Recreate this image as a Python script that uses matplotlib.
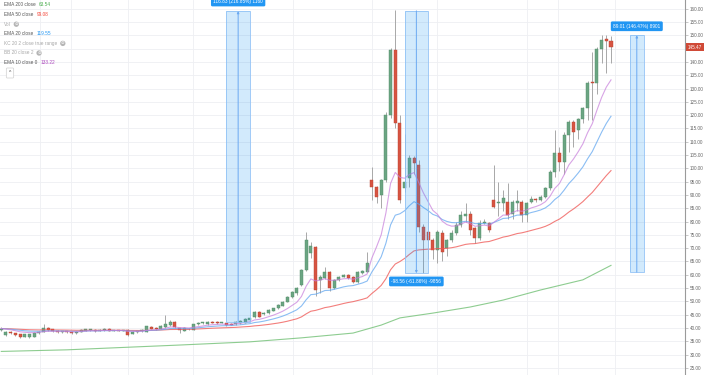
import numpy as np
import pandas as pd
import matplotlib
matplotlib.use('Agg')
import matplotlib.pyplot as plt
from matplotlib.patches import Rectangle

plt.rcParams['font.family'] = ['Liberation Sans', 'DejaVu Sans']

# candles (weekly)
opens = [39.2, 37.4, 38.6, 38.0, 37.6, 36.8, 36.8, 36.8, 38.0, 38.6,
         39.9, 39.5, 39.0, 38.6, 38.7, 38.6, 38.0, 38.6, 39.0, 39.3,
         39.4, 39.0, 39.2, 39.7, 39.0, 39.1, 39.0, 39.3, 37.9, 38.5,
         38.8, 38.6, 40.5, 40.0, 39.8, 40.3, 41.1, 42.4, 39.9, 39.0,
         39.5, 39.3, 41.4, 41.8, 41.4, 42.2, 42.4, 41.9, 41.8, 41.6,
         41.4, 41.8, 42.0, 43.0, 44.0, 46.1, 45.3, 45.5, 46.5, 47.4,
         48.4, 49.9, 51.6, 53.0, 56.2, 61.8, 68.2, 70.5, 58.0, 58.8,
         61.2, 55.0, 58.0, 59.3, 60.0, 59.3, 57.4, 60.5, 61.2, 95.6,
         93.1, 90.0, 95.6, 120.0, 144.5, 117.0, 92.5, 96.3, 103.8, 101.3,
         78.1, 76.0, 73.0, 69.3, 75.7, 70.0, 73.0, 75.6, 78.7, 82.0,
         82.8, 77.5, 73.7, 79.4, 79.4, 88.1, 86.8, 87.0, 87.5, 82.8,
         86.8, 87.5, 82.6, 87.4, 88.4, 88.1, 89.4, 92.5, 98.7, 105.7,
         102.5, 112.5, 117.6, 114.4, 118.4, 122.6, 132.5, 132.2, 144.8, 148.5,
         148.0]
closes = [39.8, 38.6, 38.2, 37.4, 36.8, 37.6, 37.6, 38.3, 38.6, 40.1,
          39.3, 38.9, 38.6, 38.7, 38.6, 38.0, 38.5, 39.3, 39.6, 39.4,
          38.8, 39.3, 39.7, 39.0, 39.1, 39.0, 39.1, 37.4, 38.5, 38.6,
          39.3, 40.6, 39.8, 39.7, 40.8, 41.4, 42.4, 40.2, 39.3, 39.9,
          39.6, 41.4, 41.8, 41.8, 42.4, 42.0, 41.8, 42.0, 41.1, 41.3,
          42.4, 42.8, 43.3, 43.6, 46.1, 44.3, 45.6, 46.8, 47.4, 48.6,
          49.9, 51.8, 53.7, 55.0, 61.8, 73.0, 70.8, 54.3, 59.3, 61.2,
          55.0, 58.0, 59.3, 60.0, 58.8, 57.4, 61.2, 61.5, 64.5, 93.1,
          89.4, 95.6, 120.0, 144.5, 117.0, 88.1, 95.0, 103.8, 101.9, 78.1,
          73.0, 73.0, 69.3, 76.0, 68.7, 73.0, 75.6, 78.7, 82.5, 82.8,
          76.8, 73.7, 79.4, 79.7, 76.8, 85.6, 87.2, 88.8, 82.4, 87.5,
          87.6, 82.6, 86.8, 88.5, 88.0, 89.4, 92.5, 98.7, 105.7, 102.5,
          112.5, 117.6, 113.8, 118.4, 122.6, 132.2, 132.0, 144.8, 148.2, 148.0,
          145.47]
highs = [40.3, 39.0, 38.9, 38.3, 37.9, 37.9, 37.8, 38.5, 39.0, 41.4,
         40.3, 39.8, 39.2, 39.0, 38.9, 38.8, 38.8, 39.5, 39.8, 39.7,
         39.6, 39.6, 39.9, 39.9, 39.4, 39.3, 39.3, 39.5, 38.8, 38.9,
         39.5, 40.9, 40.8, 40.2, 41.1, 44.9, 43.0, 42.6, 40.1, 40.2,
         39.9, 41.6, 42.1, 42.1, 42.7, 42.5, 42.6, 42.3, 42.0, 41.8,
         42.6, 43.1, 43.6, 43.9, 46.5, 46.4, 45.9, 47.1, 47.7, 48.9,
         50.2, 52.1, 54.0, 55.4, 62.3, 76.2, 72.4, 71.0, 59.8, 63.0,
         61.5, 58.4, 59.6, 60.3, 60.3, 59.6, 61.5, 61.8, 68.7, 100.6,
         93.5, 96.0, 121.0, 145.2, 159.5, 120.0, 113.0, 105.0, 104.5, 103.0,
         79.0, 85.6, 74.0, 77.0, 77.0, 73.5, 77.0, 80.0, 84.0, 87.0,
         84.0, 78.0, 80.5, 81.0, 80.0, 101.3, 95.0, 92.0, 94.5, 88.0,
         92.0, 88.0, 87.2, 89.5, 88.8, 90.0, 93.0, 99.2, 114.4, 108.1,
         113.5, 118.2, 118.0, 119.0, 123.2, 133.0, 143.9, 145.5, 150.1, 150.0,
         149.7]
lows = [38.9, 37.0, 37.8, 37.0, 36.4, 36.5, 36.4, 36.5, 37.6, 38.4,
        39.0, 38.6, 38.3, 38.3, 38.3, 37.7, 37.8, 38.4, 38.8, 39.0,
        38.5, 38.8, 39.0, 38.8, 38.8, 38.7, 38.8, 37.0, 37.6, 38.2,
        38.5, 38.4, 39.5, 39.4, 39.6, 40.1, 40.9, 39.9, 38.0, 38.7,
        39.2, 39.1, 41.1, 41.5, 41.2, 41.7, 41.5, 41.7, 40.8, 41.0,
        41.2, 41.6, 41.8, 42.8, 43.8, 44.0, 45.0, 45.3, 46.3, 47.2,
        48.2, 49.6, 51.3, 52.4, 55.8, 61.5, 66.3, 52.0, 53.0, 58.5,
        54.0, 54.6, 57.6, 59.0, 58.5, 57.0, 57.0, 60.2, 61.0, 88.0,
        87.0, 85.0, 95.0, 119.0, 115.0, 87.0, 91.0, 93.0, 98.0, 76.0,
        60.6, 66.0, 66.0, 64.5, 65.0, 67.0, 72.5, 75.0, 78.0, 80.0,
        75.0, 72.0, 73.0, 79.0, 76.0, 85.0, 82.0, 84.0, 81.0, 81.0,
        84.0, 80.0, 80.0, 87.0, 87.4, 87.8, 89.0, 92.0, 96.9, 99.0,
        98.0, 106.3, 108.1, 111.0, 117.0, 118.0, 118.2, 128.0, 139.5, 135.7,
        139.5]

# EMA 200 line (needs history before the window)
ema200_idx = [0, 14, 38, 53, 64, 75, 81, 85, 92, 100, 107, 115, 124, 130]
ema200_val = [31.2, 31.8, 33.6, 34.8, 36.3, 38.1, 41.1, 43.8, 45.6, 47.9,
              50.5, 54.3, 58.1, 63.54]

legend_rows = [("EMA 200 close", "63.54", '#4caf50'),
               ("EMA 50 close", "99.08", '#f44336'),
               ("Vol", None, None),
               ("EMA 20 close", "119.55", '#2196f3'),
               ("KC 20 2 close true range", None, None),
               ("BB 20 close 2", None, None),
               ("EMA 10 close 0", "133.22", '#ab47bc')]

# price measures: start idx, end idx, low, high, label
measures = [(48, 53, 42.3, 159.1, "116.83 (216.85%) 1160", 'up', 162.7),
            (86, 91, 60.6, 159.2, "-98.56 (-61.86%) -9856", 'down', 57.5),
            (134, 137, 61.0, 150.0, "89.01 (146.47%) 8901", 'up', 153.4)]

last_price = 145.47
price_ticks = np.arange(25, 161, 5)
vgrid = [8.3, 14.9, 27, 40.9, 62.2, 79, 92.9, 112.1, 118.7, 130.9]

W, H = 710, 375
fig = plt.figure(figsize=(W / 100, H / 100), dpi=100)
ax = fig.add_axes([0, 0, 685 / W, 1])

opens = np.array(opens)
closes = np.array(closes)
highs = np.array(highs)
lows = np.array(lows)
idx = np.arange(len(closes))

up = closes >= opens
body_col = np.where(up, '#6ba583', '#d75442')
edge_col = np.where(up, '#4f8c66', '#b9432f')
ax.vlines(idx, lows, highs, color='#a8a8a8', lw=0.7, zorder=2)
body_low = np.minimum(opens, closes)
body_h = np.maximum(np.abs(closes - opens), 0.3)
ax.bar(idx, body_h, bottom=body_low, width=0.64, color=body_col,
       edgecolor=edge_col, linewidth=0.3, zorder=3)

s = pd.Series(closes)
ax.plot(ema200_idx, ema200_val, color='#81c784', lw=0.8, alpha=0.9, zorder=4)
ax.plot(idx, s.ewm(span=50, adjust=False).mean(), color='#ef5350', lw=0.8, alpha=0.75, zorder=4)
ax.plot(idx, s.ewm(span=20, adjust=False).mean(), color='#64a8f0', lw=0.8, alpha=0.75, zorder=4)
ax.plot(idx, s.ewm(span=10, adjust=False).mean(), color='#c77ddb', lw=0.8, alpha=0.7, zorder=4)

for x0, x1, lo, hi, label, direction, ly in measures:
    ax.add_patch(Rectangle((x0, lo), x1 - x0, hi - lo, fc='#2196f3', alpha=0.2,
                           ec='none', zorder=5))
    ax.add_patch(Rectangle((x0, lo), x1 - x0, hi - lo, fc='none',
                           ec='#90c2f6', lw=0.6, zorder=5))
    xc = (x0 + x1) / 2
    if direction == 'up':
        a, b = lo, hi
    else:
        a, b = hi, lo
    ax.annotate('', xy=(xc, b), xytext=(xc, a), zorder=6,
                arrowprops=dict(arrowstyle='-|>', color='#6aa9f2', lw=0.7,
                                mutation_scale=3, shrinkA=0, shrinkB=0))
    ax.text(xc, ly, label, color='white', fontsize=3.4, ha='center', va='center',
            zorder=7, bbox=dict(boxstyle='round,pad=0.5,rounding_size=0.3',
                                fc='#2196f3', ec='none'))

ax.set_xlim((0 - 1.3) / 4.69, (685 - 1.3) / 4.69)
ax.set_ylim(22.34, 163.27)
ax.set_yticks(price_ticks)
# the 145.00 label sits under the last-price tag
ax.set_yticklabels(['' if abs(v - last_price) < 2.5 else '%.2f' % v for v in price_ticks])
ax.set_xticks(vgrid)
ax.set_xticklabels([])
ax.tick_params(axis='x', length=0)
ax.yaxis.tick_right()
ax.tick_params(axis='y', length=2.5, width=0.5, color='#b0b0b0', pad=1,
               labelsize=3.3, labelcolor='#666666')
ax.grid(True, color='#eeeff3', lw=0.6, zorder=0)
ax.set_axisbelow(True)
for side in ['top', 'left', 'bottom']:
    ax.spines[side].set_visible(False)
ax.spines['right'].set_color('#9a9a9a')
ax.spines['right'].set_linewidth(0.8)

ax.text(1.004, (last_price - 22.34) / (163.27 - 22.34), '%.2f' % last_price,
        transform=ax.transAxes, color='white', fontsize=3.3, ha='left', va='center',
        zorder=10, clip_on=False,
        bbox=dict(boxstyle='square,pad=0.35', fc='#d04a37', ec='none'))

# legend in the top left corner
for k, (name, val, col) in enumerate(legend_rows):
    y = 1 - (5 + 9.6 * k) / H
    dim = val is None
    t = fig.text(4 / W, y, name, fontsize=3.4, va='center',
                 color='#a8a8a8' if dim else '#555555')
    if val is not None:
        ax.annotate(val, xy=(1, 0.5), xycoords=t, xytext=(2.5, 0),
                    textcoords='offset points', va='center', fontsize=3.4, color=col)
    else:
        ax.annotate('\u2298', xy=(1, 0.5), xycoords=t, xytext=(4, 0),
                    textcoords='offset points', va='center', ha='center',
                    fontsize=3.2, color='white', family='DejaVu Sans',
                    bbox=dict(boxstyle='circle,pad=0.15', fc='#b5b5b5', ec='none'))

fig.text(10 / W, 1 - 73 / H, '^', fontsize=3.6, ha='center', va='center', color='#444444',
         bbox=dict(boxstyle='round,pad=0.5,rounding_size=0.2', fc='white',
                   ec='#d0d0d0', lw=0.5))

fig.savefig('out.png', dpi=100)
